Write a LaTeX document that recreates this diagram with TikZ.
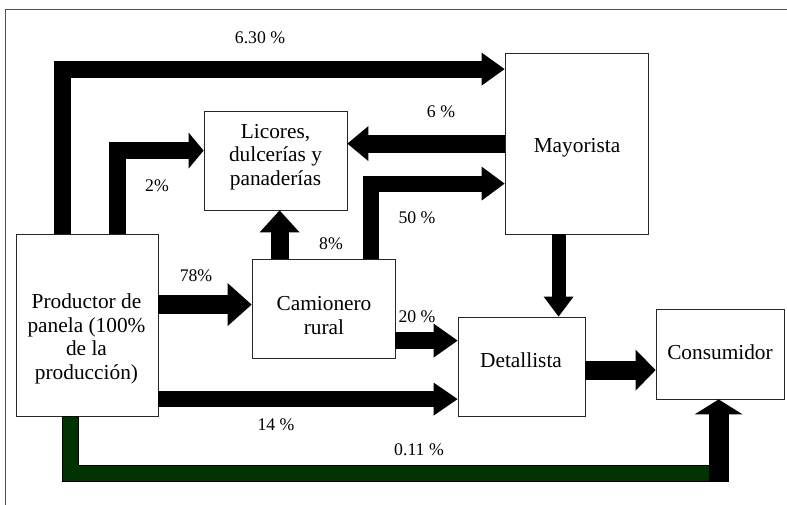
\documentclass[tikz,border=0pt]{standalone}
\usepackage{fontspec}
\setmainfont{Liberation Serif}
\usetikzlibrary{arrows.meta,calc}
\definecolor{pgreen}{RGB}{0,51,0}
\definecolor{framegray}{RGB}{80,80,80}
\begin{document}
\begin{tikzpicture}[x=0.75pt,y=-0.75pt,
  box/.style={draw=black!85, line width=0.6pt, fill=white, inner sep=0pt},
  txt/.style={font=\fontsize{16}{17.8}\selectfont, align=center, inner sep=0pt},
  lab/.style={font=\fontsize{13.3}{15}\selectfont, inner sep=0pt, anchor=base},
  flow/.style={draw=black, line join=miter, line cap=butt},
  ah/.style 2 args={-{Triangle[width=#1,length=#2,line width=0pt]}},
]
\useasboundingbox (0,0) rectangle (787,505);
\draw[framegray, line width=0.75pt] (790,10) -- (5,10) -- (5,510);

% boxes
\node[box, minimum width=107.25pt, minimum height=74.25pt] (lic) at (275.5,160.5) {};
\node[box, minimum width=107.25pt, minimum height=135.75pt] (may) at (576.5,143.5) {};
\node[box, minimum width=106.5pt, minimum height=136.5pt] (prod) at (87,325) {};
\node[box, minimum width=107.25pt, minimum height=74.25pt] (cam) at (323.5,308.5) {};
\node[box, minimum width=95.25pt, minimum height=74.25pt] (det) at (521.5,366.5) {};
\node[box, minimum width=96pt, minimum height=67.5pt] (con) at (720,354) {};

% box texts
\node[txt] (licT) at (275.5,157) {Licores,\\dulcerías y\\panaderías};
\node[txt] (mayT) at (577,147.5) {Mayorista};
\node[txt] (prodT) at (86.5,339) {Productor de\\panela (100\%\\de la\\producción)};
\node[txt] (camT) at (324,315.5) {Camionero\\rural};
\node[txt] (detT) at (521,360) {Detallista};
\node[txt] (conT) at (720,352.5) {Consumidor};

% green flow
\coordinate (gc) at ($(con.south west)+(63,83)$);
\draw[line join=miter, line width=12.75pt, black] ($(prod.south west)+(54.5,0)$) |- ($(gc)+(-10,-8.5)$);
\draw[line join=miter, line width=11.25pt, pgreen] ($(prod.south west)+(54.5,0.6)$) |- ($(gc)+(-10,-8.5)$);
\draw[flow, line width=15pt, ah={36pt}{11.25pt}] (gc) -- ($(con.south west)+(63,0)$);

% black flows
\draw[flow, line width=12.75pt, ah={24.75pt}{17.25pt}] ($(prod.north west)+(46.5,0)$) |- ($(may.north west)+(0,16.5)$);
\draw[flow, line width=12.4pt, ah={27pt}{11.25pt}] ($(prod.north west)+(102,0)$) |- ($(lic.north west)+(0,40)$);
\draw[flow, line width=13.5pt, ah={26.25pt}{15.75pt}] ($(may.north west)+(0,91)$) -- ($(lic.north east)+(0,33)$);
\draw[flow, line width=12pt, ah={25.5pt}{17.25pt}] ($(cam.north west)+(119,0)$) |- ($(may.north west)+(0,131)$);
\draw[flow, line width=13.5pt, ah={30pt}{16.5pt}] ($(cam.north west)+(28,0)$) -- ($(lic.south west)+(76,0)$);
\draw[flow, line width=14.25pt, ah={32.25pt}{18pt}] ($(prod.north east)+(0,71)$) -- ($(cam.north west)+(0,46)$);
\draw[flow, line width=12.75pt, ah={25.5pt}{18pt}] ($(cam.north east)+(0,82)$) -- ($(det.north west)+(0,24)$);
\draw[flow, line width=11.6pt, ah={24.75pt}{18pt}] ($(prod.north east)+(0,165.5)$) -- ($(det.north west)+(0,82.5)$);
\draw[flow, line width=10.5pt, ah={22.5pt}{15pt}] ($(may.south west)+(54,0)$) -- ($(det.north west)+(101,0)$);
\draw[flow, line width=14.25pt, ah={30.75pt}{15pt}] ($(det.north east)+(0,53.5)$) -- ($(con.north west)+(0,61.5)$);

% labels
\node[lab] (l630) at (260,43.5) {6.30 \%};
\node[lab] (l2) at (157,192) {2\%};
\node[lab] (l6) at (441,117.5) {6 \%};
\node[lab] (l50) at (417,224) {50 \%};
\node[lab] (l8) at (331,249.5) {8\%};
\node[lab] (l78) at (196,281.7) {78\%};
\node[lab] (l20) at (417,322.7) {20 \%};
\node[lab] (l14) at (276,430.7) {14 \%};
\node[lab] (l011) at (419,455.7) {0.11 \%};
\end{tikzpicture}
\end{document}
